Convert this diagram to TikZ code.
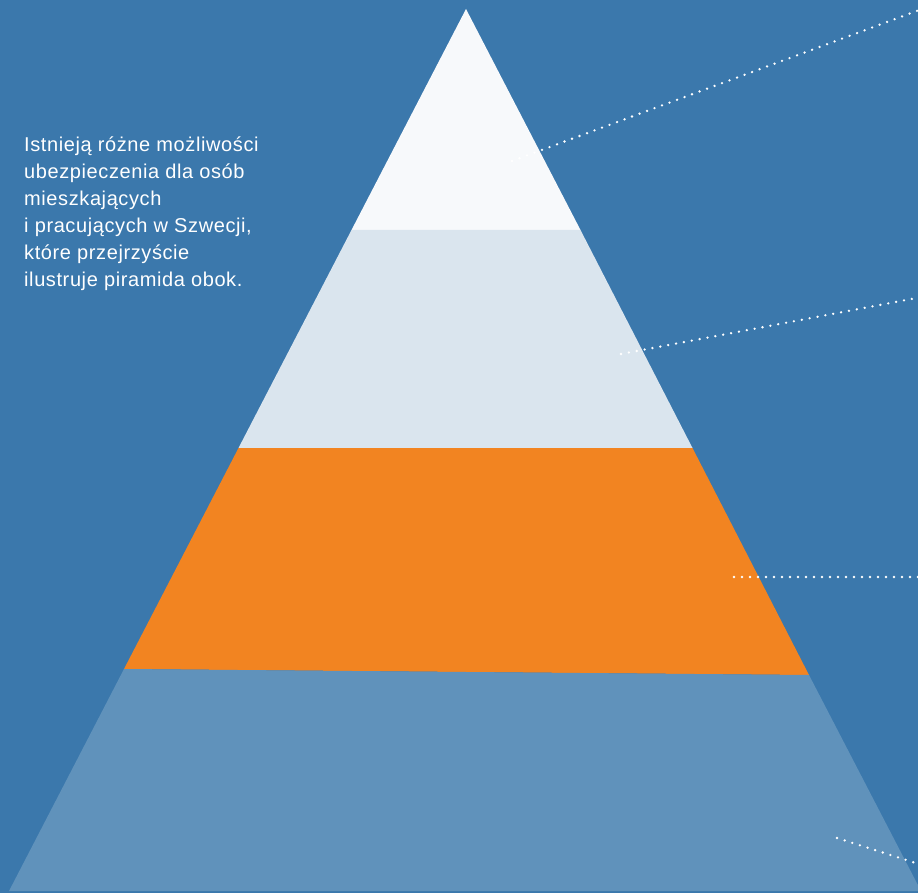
\documentclass[tikz,border=0pt]{standalone}
\usepackage{fontspec}
\setmainfont{Liberation Sans}
\newfontfamily\introfont[LetterSpace=3]{Liberation Sans}
\definecolor{bgblue}{HTML}{3B78AC}
\definecolor{bandwhite}{HTML}{F7F9FB}
\definecolor{bandlight}{HTML}{DAE5EE}
\definecolor{bandorange}{HTML}{F28421}
\definecolor{bandbottom}{HTML}{6092BB}
\tikzset{
  band/.style={draw=none},
  dotline/.style={white, line width=2.6pt, line cap=round, dash pattern=on 0pt off 8pt},
  intro/.style={text=white, align=left, inner sep=0pt, anchor=base west,
    font=\introfont\fontsize{20}{27}\selectfont}
}
\begin{document}
\begin{tikzpicture}[x=1pt,y=-1pt]
\useasboundingbox (0,0) rectangle (918,893);
\clip (0,0) rectangle (918,893);
\fill[bgblue] (0,0) rectangle (918,893);
% pyramid bands
\fill[band, bandwhite] (466,9) -- (580.5,230) -- (351.5,230) -- cycle;
\fill[band, bandlight] (351.5,230) -- (580.5,230) -- (692.5,448) -- (238.5,448) -- cycle;
\fill[band, bandorange] (238.5,448) -- (692.5,448) -- (809,675) -- (124,669) -- cycle;
\fill[band, bandbottom] (124,669) -- (809,675) -- (921,891) -- (9,891) -- cycle;
% connector end points
\coordinate (a1) at (512,161);
\coordinate (a2) at (922,9);
\coordinate (b1) at (621,354);
\coordinate (b2) at (922,297);
\coordinate (c1) at (734,577);
\coordinate (c2) at (922,577);
\coordinate (d1) at (837,838);
\coordinate (d2) at (922,865);
\draw[dotline] (a1) -- (a2);
\draw[dotline] (b1) -- (b2);
\draw[dotline] (c1) -- (c2);
\draw[dotline] (d1) -- (d2);
% text
\node[intro] (txt) at (24,287) {Istnieją różne możliwości\\ubezpieczenia dla osób\\mieszkających\\i pracujących w Szwecji,\\które przejrzyście\\ilustruje piramida obok.};
\end{tikzpicture}
\end{document}
